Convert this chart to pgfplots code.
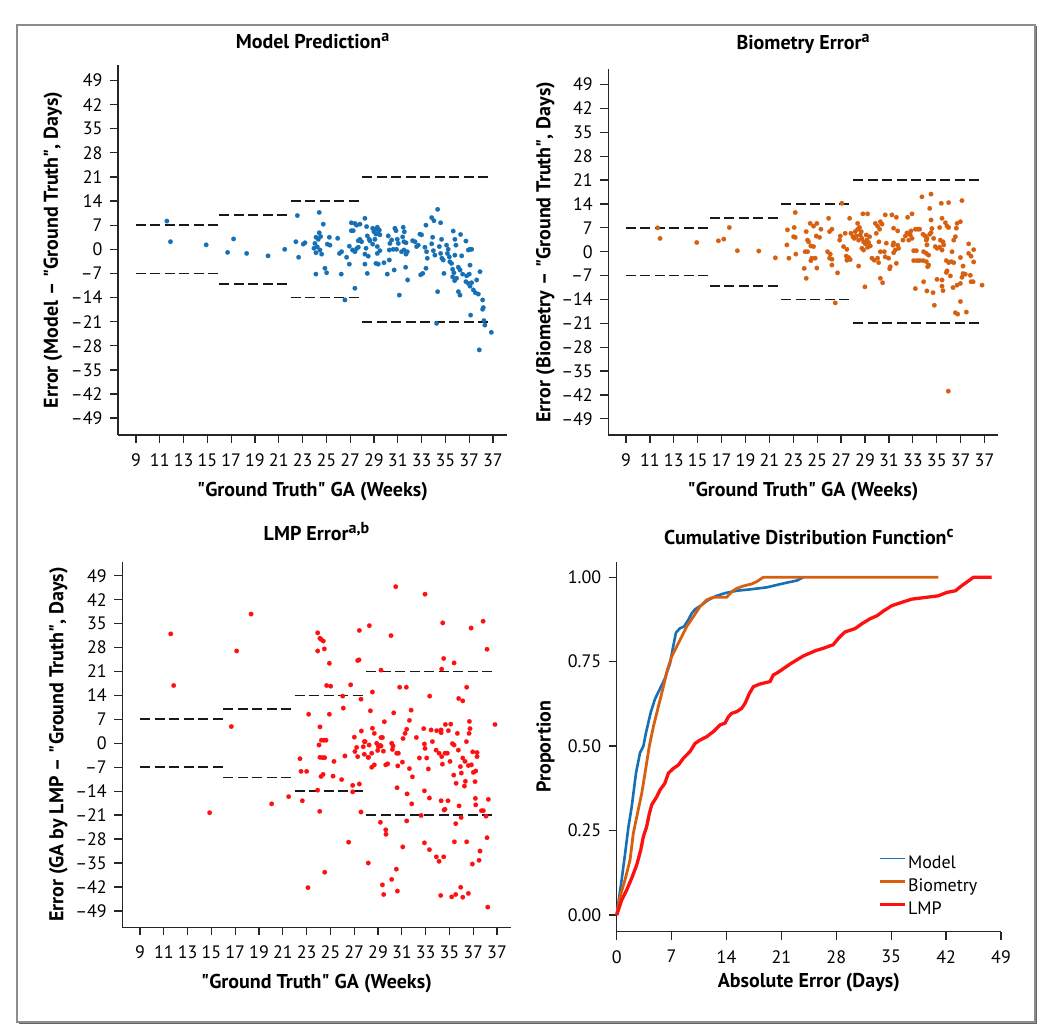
\documentclass[border=0pt]{standalone}
\usepackage{fontspec}
\setmainfont{PT Sans}
\usepackage{pgfplots}
\usepackage{pgfplotstable}
\pgfplotsset{compat=1.18}

\definecolor{cmodel}{RGB}{22,112,182}
\definecolor{cbio}{RGB}{214,96,16}
\definecolor{clmp}{RGB}{255,16,16}

\newcommand{\fs}[1]{\fontsize{#1}{#1}\selectfont}
\newcommand{\supx}[1]{\raisebox{7pt}{\fs{16}#1}}
\newcommand{\q}{\textquotedbl}

\pgfplotstableread{
x y
11.6 8.2
11.9 2.2
14.9 1.3
16.7 -0.9
17.2 3.0
18.3 -1.2
20.1 -1.9
21.5 0.0
22.56 9.8
22.44 2.2
22.67 -2.3
23.06 1.5
23.2 1.9
24.4 10.7
24.74 7.3
24.13 3.5
24.32 2.9
24.52 3.7
24.04 1.7
24.24 0.7
23.96 0.3
24.46 -0.2
24.13 -1.0
24.6 -1.4
24.4 4.8
24.88 -5.5
25.02 -6.8
24.12 -7.2
25.25 3.5
25.08 1.5
25.3 1.2
25.95 3.2
26.1 -1.2
26.28 -0.7
26.25 -7.2
26.56 -14.7
26.7 -2.3
26.93 -4.3
26.93 0.9
27.1 7.7
27.26 5.4
27.4 7.5
27.54 7.0
27.82 7.3
27.1 5.4
27.2 -0.2
27.4 -0.7
27.54 0.2
27.68 0.6
27.4 -11.3
27.82 2.9
27.96 2.2
27.68 2.5
28.24 9.0
28.38 6.6
28.6 2.9
28.66 2.5
28.44 3.9
28.33 0.3
28.24 -1.4
28.52 -2.0
28.44 -7.0
28.24 -4.3
28.89 6.1
29.0 5.1
29.17 5.8
29.28 6.4
29.45 5.6
29.36 4.6
29.17 4.4
29.5 4.2
29.28 0.8
29.5 -0.4
29.17 -4.1
29.36 -4.3
29.28 -1.2
28.89 1.5
29.08 2.9
29.84 -3.9
30.29 -3.1
30.12 -7.2
30.2 3.9
30.34 1.7
30.48 2.7
30.62 0.0
30.29 -0.2
30.76 6.1
30.85 5.4
30.96 2.9
31.04 1.7
30.9 0.0
30.7 -6.0
31.13 -13.3
31.46 6.4
31.55 5.1
31.41 3.6
31.52 2.2
31.69 1.9
31.32 -0.7
31.52 -0.2
31.69 -1.4
31.8 -0.7
31.66 -5.2
31.83 -8.9
32.25 2.5
32.45 2.2
32.58 0.8
32.86 4.4
33.0 4.2
32.72 1.2
32.92 -7.4
33.1 -7.0
33.37 7.0
33.28 0.6
33.42 -0.7
33.48 -2.6
33.37 -5.5
33.85 9.2
34.04 8.3
33.93 3.5
33.85 1.6
33.99 -0.4
34.12 -1.7
34.35 11.6
34.26 -21.5
34.35 -12.3
34.6 7.7
34.68 2.9
34.49 0.8
34.6 -1.2
34.71 -2.6
34.82 -3.1
34.88 -7.0
35.1 1.2
35.24 0.0
35.17 -1.2
35.33 -2.2
35.38 -3.6
35.52 -4.1
35.66 5.3
35.8 2.9
35.89 1.2
35.8 -1.7
35.61 -5.8
35.72 -6.8
35.61 -8.0
35.78 -9.1
35.94 -8.4
36.09 -5.2
36.23 -6.0
36.28 4.3
36.37 -1.9
36.45 -7.2
36.09 -12.3
36.23 -13.3
36.73 2.4
36.93 -0.2
37.07 0.0
37.21 0.0
37.07 -4.6
37.01 -7.2
36.79 -7.7
36.73 -9.4
36.93 -9.9
37.07 -10.7
37.21 -9.7
37.35 -11.8
37.52 -12.6
37.63 -8.9
37.77 -13.0
37.91 -6.5
37.12 -19.1
38.13 -14.7
38.19 -16.9
38.13 -17.4
38.24 -20.7
38.32 -22.0
38.86 -24.1
37.85 -29.2
}\modeldata

\pgfplotstableread{
x y
11.65 7.0
11.85 3.9
14.92 2.7
16.73 3.2
17.18 3.7
17.65 7.1
18.32 0.3
20.11 0.2
21.5 -1.8
22.51 6.4
22.46 2.0
22.63 -1.9
23.07 7.1
23.16 11.5
23.02 4.4
23.16 4.2
23.21 -0.7
24.08 5.9
24.19 3.4
24.41 8.3
24.69 7.5
24.97 8.3
24.92 4.6
25.19 4.2
25.31 6.6
24.69 1.5
24.47 1.7
24.19 0.0
23.99 0.0
24.55 -1.9
24.47 -2.6
24.83 -1.9
23.91 -4.9
24.08 -7.8
24.97 -4.8
24.27 2.9
25.95 9.8
26.03 5.9
26.23 6.6
25.86 0.0
26.09 -0.7
26.03 -1.9
26.23 -2.2
26.23 -3.9
26.7 -6.2
26.93 4.6
26.88 3.4
27.34 5.4
27.2 1.5
27.48 0.7
27.62 -1.7
27.76 -2.3
27.48 -2.5
27.43 -1.3
27.06 14.2
26.51 -15.0
27.71 9.8
27.82 5.4
27.99 4.4
28.1 3.9
28.27 4.6
28.18 5.9
28.38 6.6
28.46 3.4
28.6 4.9
28.74 3.9
28.54 7.1
28.68 5.9
28.38 8.3
28.82 11.1
29.21 11.1
28.88 2.9
29.02 2.3
29.16 3.4
29.3 2.7
29.21 1.3
29.44 1.7
29.38 4.4
29.1 4.9
28.88 0.5
28.74 1.0
28.46 -4.2
28.99 -10.3
29.58 -1.9
29.77 -2.5
30.05 -1.9
30.14 -3.2
29.86 8.3
30.05 7.5
30.28 8.8
30.42 8.1
30.22 6.6
29.94 5.4
30.16 2.9
30.69 10.8
31.25 10.8
31.62 10.1
30.78 2.5
30.61 0.0
30.28 0.0
30.69 -1.5
30.28 -7.8
30.47 -9.1
30.97 -1.9
31.11 -4.4
31.06 -5.0
31.39 6.9
31.73 6.1
31.39 2.6
31.34 1.9
31.73 1.9
31.53 0.5
31.81 1.0
31.39 -0.3
31.62 -3.4
32.17 3.4
32.37 4.6
32.51 5.5
32.65 5.4
32.84 6.1
32.93 3.9
32.79 4.9
32.65 3.4
32.56 10.1
32.93 11.1
33.21 6.6
33.4 6.6
33.57 6.6
33.07 0.3
33.29 0.3
33.07 -2.6
33.35 -2.6
33.57 -2.6
33.85 -2.6
34.13 -2.9
33.21 -10.8
33.76 16.1
34.52 16.9
33.85 5.1
34.04 4.6
34.18 3.9
34.41 5.1
34.52 5.6
34.13 3.4
34.18 2.0
34.41 12.7
34.52 9.3
33.9 0.0
34.13 -0.5
34.32 -1.0
34.32 -3.9
34.24 -4.4
33.9 -8.8
34.18 -11.5
34.69 -12.0
34.8 -15.7
34.6 6.8
34.74 3.9
34.88 1.5
35.02 1.0
35.24 1.3
35.44 0.5
35.58 2.0
35.3 3.4
35.52 2.9
35.38 14.2
35.99 14.4
35.24 7.1
35.44 9.8
35.72 8.5
35.86 7.5
35.99 7.1
35.8 -2.6
36.0 -3.2
36.2 -2.9
36.42 -3.2
35.86 -5.6
35.44 -8.3
35.02 -8.1
36.14 -7.1
35.8 -6.1
35.52 -11.4
35.44 -10.1
36.28 0.0
36.42 3.4
36.56 4.4
36.64 6.9
36.98 8.8
37.11 15.0
36.7 8.3
36.98 -1.7
37.2 -4.2
37.2 -6.4
37.11 -7.5
36.98 -9.3
37.39 -6.6
37.67 -0.5
37.67 2.3
37.87 -1.3
38.09 0.6
38.09 -3.0
37.81 -6.9
37.87 -8.8
38.04 -8.8
36.7 -9.8
36.36 -10.5
36.98 -14.6
36.56 -17.9
36.75 -18.3
37.48 -17.7
38.79 -9.8
35.97 -40.9
}\biodata

\pgfplotstableread{
x y
11.58 32.0
11.83 16.9
14.85 -20.3
16.67 4.9
17.12 27.0
18.33 37.8
20.06 -17.7
21.49 -15.6
22.44 -4.5
22.53 -8.2
23.0 -8.2
22.64 -16.8
23.17 8.5
23.11 -42.2
23.93 32.3
24.12 30.7
24.21 30.4
24.4 29.9
23.93 27.0
24.49 27.6
24.91 23.4
24.68 16.9
25.02 16.7
24.12 4.8
24.91 8.5
24.04 -0.5
24.24 0.9
24.46 0.9
24.63 0.9
24.12 -4.1
24.35 -4.2
24.52 -4.2
24.21 -9.7
24.38 -9.1
25.3 -5.3
25.22 -9.6
23.93 -13.7
24.1 -19.9
24.52 -37.7
25.94 -10.6
26.03 13.8
26.08 10.3
26.22 -3.7
26.7 17.1
26.53 -28.9
26.87 -14.2
26.87 -12.3
27.43 -11.9
27.01 1.8
27.2 -1.2
27.29 -3.9
27.06 -2.4
27.76 -1.0
27.85 0.5
27.29 24.2
27.4 24.4
27.43 33.0
27.57 12.9
27.6 3.6
27.85 -3.2
27.57 -20.1
28.18 -35.0
28.27 34.4
28.18 -4.1
30.49 45.8
32.95 43.6
30.09 31.5
34.44 35.2
36.82 33.7
37.83 35.7
38.16 27.5
34.52 24.8
35.39 23.5
34.35 21.7
29.25 21.4
28.53 15.0
30.82 16.4
31.38 16.4
33.34 13.8
35.78 13.1
36.12 12.4
36.45 16.4
28.36 9.5
30.32 8.9
31.78 9.7
29.53 6.3
28.53 4.4
28.69 2.9
29.25 1.7
29.37 1.7
31.64 6.7
31.41 4.1
31.27 2.9
31.1 1.4
32.22 1.7
32.84 4.3
33.46 3.9
33.93 3.7
34.3 3.9
34.66 5.5
35.11 5.6
34.91 3.7
35.67 2.9
36.68 6.4
36.73 4.3
36.65 2.9
38.83 5.5
27.91 0.5
28.25 -0.5
28.47 -2.9
28.19 -4.1
28.47 -7.0
28.89 0.0
29.03 -1.0
29.17 -0.6
28.97 -2.1
29.45 -2.3
29.25 -0.8
30.15 0.0
30.26 -0.8
30.21 -1.8
30.57 -2.9
30.71 -2.9
29.65 -6.3
29.81 -6.0
28.69 -6.3
31.05 -5.5
30.66 -6.6
31.64 -7.4
31.89 -9.8
30.6 -13.0
31.44 -14.8
31.83 -17.7
32.48 -4.3
32.9 -0.2
32.95 -1.5
33.09 -4.3
33.23 -7.5
33.57 0.5
33.88 -2.0
34.13 -2.9
34.35 -3.9
34.41 -6.1
34.63 -2.9
34.83 -2.9
34.3 3.1
35.05 -5.3
35.25 -0.1
35.39 -0.5
35.36 -9.3
35.56 -11.7
35.75 -2.0
35.92 -6.8
36.0 -8.7
36.12 -4.3
36.31 -5.3
36.34 -11.1
36.26 -12.5
36.43 0.5
36.59 -6.5
36.85 -6.3
37.01 -8.5
37.21 -8.1
36.96 -2.5
37.32 -2.7
37.32 -3.9
37.15 -11.2
32.9 -13.9
33.32 -16.0
34.3 -16.8
34.88 -16.8
34.63 -19.3
34.55 -19.5
35.81 -18.3
35.98 -21.7
35.53 -23.5
35.42 -28.8
36.45 -28.8
37.18 -16.1
37.21 -18.0
37.69 -19.7
37.85 -19.7
38.08 -21.3
38.27 -16.4
38.16 -27.6
37.57 -31.5
37.49 -34.2
36.93 -35.3
29.2 -23.1
29.65 -25.3
29.67 -26.6
31.41 -22.7
31.08 -30.3
32.62 -21.1
32.9 -29.1
33.32 -31.1
33.9 -33.2
34.13 -34.5
34.52 -33.2
30.54 -36.8
30.15 -39.8
29.37 -41.4
29.48 -44.2
30.63 -43.2
34.27 -44.5
35.19 -44.9
35.53 -44.2
35.95 -42.1
36.12 -45.0
36.59 -43.9
38.22 -47.9
}\lmpdata

\pgfplotstableread{
x y
0 0
0.3 0.05
0.63 0.104
1.06 0.18
1.49 0.26
1.91 0.32
2.46 0.42
2.97 0.48
3.4 0.50
3.74 0.54
4.34 0.60
4.89 0.64
5.52 0.67
6.14 0.70
6.8 0.745
7.2 0.795
7.56 0.836
8.07 0.849
8.58 0.854
9.13 0.874
9.56 0.893
9.99 0.905
10.84 0.918
11.69 0.933
12.75 0.945
13.82 0.953
15.3 0.96
17.0 0.964
19.13 0.97
20.4 0.977
21.7 0.984
22.95 0.99
23.8 1.0
}\cdfmodel

\pgfplotstableread{
x y
0 0
0.42 0.054
1.06 0.104
1.7 0.163
2.12 0.242
2.64 0.30
3.19 0.36
3.61 0.42
4.16 0.50
4.68 0.558
5.31 0.617
5.95 0.676
6.46 0.726
7.01 0.765
7.65 0.795
8.29 0.824
8.92 0.854
9.77 0.883
10.62 0.913
11.47 0.933
12.33 0.941
14.03 0.941
14.67 0.957
15.3 0.967
16.15 0.974
17.2 0.98
17.85 0.987
18.7 1.0
41.0 1.0
}\cdfbio

\pgfplotstableread{
x y
0 0
0.63 0.044
1.27 0.074
1.91 0.109
2.55 0.148
3.06 0.192
3.4 0.232
3.82 0.262
4.16 0.30
4.46 0.326
5.1 0.35
5.52 0.37
6.14 0.39
6.59 0.42
7.23 0.434
7.86 0.444
8.5 0.464
9.35 0.484
9.99 0.508
10.63 0.518
11.48 0.528
12.33 0.543
13.18 0.563
13.81 0.568
14.24 0.587
14.66 0.597
15.3 0.602
15.94 0.612
16.37 0.627
16.92 0.656
17.43 0.676
18.28 0.684
19.55 0.691
19.98 0.711
20.4 0.716
21.3 0.73
22.1 0.743
22.95 0.755
23.8 0.767
24.6 0.775
25.4 0.783
26.4 0.79
27.2 0.797
27.6 0.80
28.3 0.82
29.1 0.838
30.4 0.848
31.25 0.862
32.3 0.877
33.2 0.886
34.0 0.90
35.1 0.916
36.4 0.926
37.6 0.935
39.3 0.94
41.0 0.945
42.1 0.955
43.2 0.96
44.0 0.975
44.9 0.99
45.5 1.0
47.8 1.0
}\cdflmp

\pgfplotsset{
  gabase/.style={
    scale only axis,
    axis x line*=bottom, axis y line*=left,
    axis line style={line width=1.4pt, black!85},
    tick style={line width=1.3pt, black!85},
    tick align=outside,
    major tick length=8pt,
    /pgf/number format/assume math mode=true,
    tick label style={font=\fs{18}, black},
    xticklabel style={yshift=-7pt},
    yticklabel style={xshift=-4pt},
    label style={font=\bfseries\fs{20}},
    title style={font=\bfseries\fs{20}},
    clip=false,
  },
  scat/.style={
    gabase,
    xtick={9,11,...,39},
    xticklabels={9,11,13,15,17,19,21,23,25,27,29,31,33,35,37,37},
    ytick={-49,-42,...,49},
    yticklabels={--49,--42,--35,--28,--21,--14,--7,0,7,14,21,28,35,42,49},
    xlabel={\q Ground Truth\q{} GA (Weeks)},
  },
  bin/.style={black!90, line width=1.8pt, dash pattern=on 10pt off 4.5pt, forget plot},
  dots/.style={only marks, mark=*, mark size=2.3pt, color=#1,
    mark options={solid, fill=#1, draw=#1, line width=0.1pt}},
}

\newcommand{\bins}{%
  \addplot[bin] coordinates {(9,7) (16,7)};
  \addplot[bin] coordinates {(9,-7) (16,-7)};
  \addplot[bin] coordinates {(16,10) (22,10)};
  \addplot[bin] coordinates {(16,-10) (22,-10)};
  \addplot[bin] coordinates {(22,14) (28,14)};
  \addplot[bin] coordinates {(22,-14) (28,-14)};
  \addplot[bin] coordinates {(28,21) (38.7,21)};
  \addplot[bin] coordinates {(28,-21) (38.7,-21)};
}

\begin{document}
\begin{tikzpicture}[x=1pt,y=1pt]
\useasboundingbox (0,0) rectangle (1050,1033);
\fill[white] (0,0) rectangle (1050,1033);
\draw[black!45, line width=1.6pt] (17,1008) rectangle (1035,11);
\draw[black!60, line width=1.4pt] (18.5,9.3) -- (1036.7,9.3) -- (1036.7,1006.5);

% Panel 1
\begin{axis}[scat, at={(118pt,598pt)}, anchor=south west,
  width=389pt, height=370pt,
  xmin=7.49, xmax=40.18, ymin=-53.9, ymax=53.5,
  title={Model Prediction\supx{a}},
  title style={at={([yshift=10pt]axis description cs:0.5,1)}, anchor=base},
  xlabel style={at={([yshift=-62pt]axis description cs:0.5,0)}, anchor=base},
  ylabel={Error (Model -- \q Ground Truth\q, Days)},
  ylabel style={at={([xshift=-60pt]axis description cs:0,0.5)}, anchor=base},
]
\bins
\addplot[dots=cmodel] table[x=x,y=y] {\modeldata};
\end{axis}

% Panel 2
\begin{axis}[scat, at={(608.3pt,598pt)}, anchor=south west,
  width=389.4pt, height=365.7pt,
  xmin=7.52, xmax=40.1, ymin=-53.75, ymax=53.5,
  title={Biometry Error\supx{a}},
  title style={at={([yshift=14pt]axis description cs:0.5,1)}, anchor=base},
  xlabel style={at={([yshift=-62pt]axis description cs:0.5,0)}, anchor=base},
  ylabel={Error (Biometry -- \q Ground Truth\q, Days)},
  ylabel style={at={([xshift=-58pt]axis description cs:0,0.5)}, anchor=base},
]
\bins
\addplot[dots=cbio] table[x=x,y=y] {\biodata};
\end{axis}

% Panel 3
\begin{axis}[scat, at={(122.3pt,105.7pt)}, anchor=south west,
  width=388.4pt, height=365.6pt,
  xmin=7.51, xmax=40.15, ymin=-53.8, ymax=53.1,
  title={LMP Error\supx{a,b}},
  title style={at={([yshift=15pt]axis description cs:0.5,1)}, anchor=base},
  xlabel style={at={([yshift=-61pt]axis description cs:0.5,0)}, anchor=base},
  ylabel={Error (GA by LMP -- \q Ground Truth\q, Days)},
  ylabel style={at={([xshift=-59pt]axis description cs:0,0.5)}, anchor=base},
]
\bins
\addplot[dots=clmp] table[x=x,y=y] {\lmpdata};
\end{axis}

% Panel 4
\begin{axis}[gabase, at={(616.7pt,101.3pt)}, anchor=south west,
  width=384.3pt, height=370pt,
  xmin=0, xmax=49, ymin=-0.0494, ymax=1.046,
  xtick={0,7,...,49},
  ytick={0,0.25,0.5,0.75,1},
  yticklabels={0.00,0.25,0.50,0.75,1.00},
  title={Cumulative Distribution Function\supx{c}},
  title style={at={([yshift=11pt]axis description cs:0.5,1)}, anchor=base},
  xlabel={Absolute Error (Days)},
  xlabel style={at={([yshift=-56pt]axis description cs:0.5,0)}, anchor=base},
  ylabel={Proportion},
  ylabel style={at={([xshift=-66pt]axis description cs:0,0.5)}, anchor=base},
  legend style={draw=none, fill=none, at={(0.68,0.21)}, anchor=north west,
    font=\fs{18}, inner sep=0pt, row sep=4.5pt,
    nodes={inner sep=1.5pt, text height=12.5pt, text depth=3pt}},
  legend cell align=left,
  legend image code/.code={\draw[#1] (0pt,5pt) -- (25pt,5pt);},
]
\addplot[cmodel, line width=2.6pt, legend image post style={line width=1.8pt}] table[x=x,y=y] {\cdfmodel};
\addlegendentry{Model}
\addplot[cbio, line width=2.8pt] table[x=x,y=y] {\cdfbio};
\addlegendentry{Biometry}
\addplot[clmp, line width=3.3pt] table[x=x,y=y] {\cdflmp};
\addlegendentry{LMP}
\end{axis}
\end{tikzpicture}
\end{document}
